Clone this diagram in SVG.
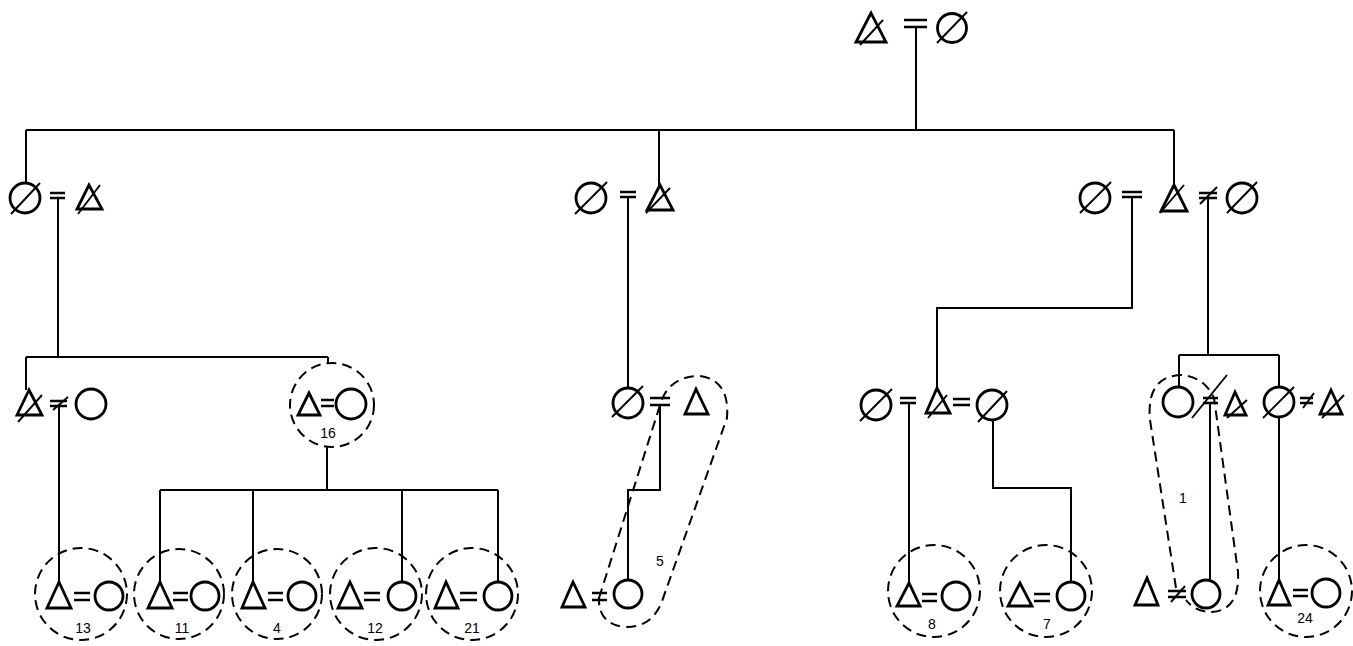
<svg xmlns="http://www.w3.org/2000/svg" width="1353" height="646" viewBox="0 0 1353 646">
<style>
  .ln { stroke: #000; stroke-width: 2; fill: none; }
  .sym { stroke: #000; stroke-width: 2.8; fill: none; stroke-linejoin: miter; }
  .eq { stroke: #000; stroke-width: 2.5; fill: none; }
  .sl { stroke: #000; stroke-width: 1.9; fill: none; }
  .dash { stroke: #000; stroke-width: 2; fill: none; stroke-dasharray: 10 6; }
  .lbl { font-family: "Liberation Sans", Arial, sans-serif; font-size: 14px; fill: #000; text-anchor: middle; }
</style>
<rect width="1353" height="646" fill="#fff"/>

<!-- descent and sibship lines -->
<g id="connectors">
  <path class="ln" d="M916,27 V130 M26,130 H1174 M26,130 V183 M659,130 V185 M1174,130 V185"/>
  <path class="ln" d="M58,198 V357 M26,357 H328 M26,357 V390 M328,357 V363"/>
  <path class="ln" d="M628,197 V388"/>
  <path class="ln" d="M1132,197 V308 H937 V388"/>
  <path class="ln" d="M1208,198 V355 M1179,355 H1279 M1179,355 V387 M1279,355 V387"/>
  <path class="ln" d="M59,406 V582"/>
  <path class="ln" d="M327,447 V490 M160,490 H498 M160,490 V582 M253,490 V582 M402,490 V582 M498,490 V582"/>
  <path class="ln" d="M660,405 V490 H628 V580"/>
  <path class="ln" d="M909,403 V583"/>
  <path class="ln" d="M993,420 V488 H1071 V582"/>
  <path class="ln" d="M1210,403 V580"/>
  <path class="ln" d="M1279,417 V580"/>
</g>

<!-- generation I -->
<g id="gen1-couple">
  <polygon class="sym" points="871,13 856,42 886,42"/>
  <line class="sl" x1="883" y1="20" x2="860" y2="45"/>
  <path class="eq" d="M904,20 H927 M904,27 H927"/>
  <circle class="sym" cx="952" cy="28" r="14.5"/>
  <line class="sl" x1="967" y1="12" x2="937" y2="43"/>
</g>

<!-- generation II -->
<g id="gen2-left">
  <circle class="sym" cx="25" cy="198" r="15"/>
  <line class="sl" x1="40" y1="183" x2="11" y2="214"/>
  <path class="eq" d="M50,193 H65 M50,198 H65"/>
  <polygon class="sym" points="89,185 77,209 102,209"/>
  <line class="sl" x1="100" y1="185" x2="78" y2="214"/>
</g>
<g id="gen2-middle">
  <circle class="sym" cx="591" cy="198" r="15"/>
  <line class="sl" x1="607" y1="182" x2="575" y2="214"/>
  <path class="eq" d="M620,192 H636 M620,197 H636"/>
  <polygon class="sym" points="660,185 647,210 673,210"/>
  <line class="sl" x1="670" y1="188" x2="646" y2="213"/>
</g>
<g id="gen2-right">
  <circle class="sym" cx="1095" cy="198" r="15"/>
  <line class="sl" x1="1111" y1="182" x2="1080" y2="213"/>
  <path class="eq" d="M1122,192 H1142 M1122,197 H1142"/>
  <polygon class="sym" points="1174,185 1161,211 1187,211"/>
  <line class="sl" x1="1184" y1="185" x2="1160" y2="213"/>
  <path class="eq" d="M1199,193 H1217 M1199,198 H1217"/>
  <line class="sl" x1="1217" y1="187" x2="1200" y2="204"/>
  <circle class="sym" cx="1242" cy="198" r="15"/>
  <line class="sl" x1="1257" y1="182" x2="1227" y2="213"/>
</g>

<!-- generation III -->
<g id="gen3-a">
  <polygon class="sym" points="29,390 17,415 42,415"/>
  <line class="sl" x1="42" y1="395" x2="18" y2="422"/>
  <path class="eq" d="M50,401 H67 M50,406 H67"/>
  <line class="sl" x1="68" y1="397" x2="53" y2="410"/>
  <circle class="sym" cx="91" cy="404" r="15"/>
</g>
<g id="gen3-b">
  <circle class="dash" cx="332" cy="405" r="42"/>
  <polygon class="sym" points="309,393 298,415 320,415"/>
  <path class="eq" d="M321,400 H334 M321,406 H334"/>
  <circle class="sym" cx="351" cy="404" r="15"/>
  <text class="lbl" x="328" y="438">16</text>
</g>
<g id="gen3-c">
  <circle class="sym" cx="628" cy="403" r="15"/>
  <line class="sl" x1="643" y1="386" x2="612" y2="417"/>
  <path class="eq" d="M650,398 H670 M650,405 H670"/>
  <polygon class="sym" points="696,389 685,414 708,414"/>
  <path class="dash" d="M599,598 L661,402 Q670,376 700,376 Q730,380 727,418 L661,604 Q650,628 625,627 Q598,624 599,598 Z"/>
  <text class="lbl" x="660" y="566">5</text>
</g>
<g id="gen3-d">
  <circle class="sym" cx="876" cy="405" r="15"/>
  <line class="sl" x1="892" y1="389" x2="860" y2="421"/>
  <path class="eq" d="M900,398 H916 M900,403 H916"/>
  <polygon class="sym" points="937,388 926,413 950,413"/>
  <line class="sl" x1="947" y1="395" x2="928" y2="418"/>
  <path class="eq" d="M953,399 H970 M953,405 H970"/>
  <circle class="sym" cx="992" cy="405" r="15"/>
  <line class="sl" x1="1007" y1="391" x2="978" y2="422"/>
</g>
<g id="gen3-e">
  <circle class="sym" cx="1178" cy="402" r="15"/>
  <path class="eq" d="M1203,398 H1218 M1203,403 H1218"/>
  <line class="sl" x1="1227" y1="375" x2="1192" y2="418"/>
  <polygon class="sym" points="1235,392 1225,415 1246,415"/>
  <line class="sl" x1="1247" y1="400" x2="1227" y2="418"/>
  <path class="dash" d="M1176,588 L1150,420 Q1146,377 1180,375 Q1204,376 1214,398 L1238,572 Q1240,610 1212,612 Q1195,612 1186,600"/>
  <text class="lbl" x="1183" y="503">1</text>
</g>
<g id="gen3-f">
  <circle class="sym" cx="1279" cy="402" r="15"/>
  <line class="sl" x1="1294" y1="387" x2="1263" y2="418"/>
  <path class="eq" d="M1300,398 H1313 M1300,403 H1313"/>
  <line class="sl" x1="1314" y1="393" x2="1303" y2="408"/>
  <polygon class="sym" points="1331,390 1320,414 1342,414"/>
  <line class="sl" x1="1344" y1="395" x2="1322" y2="418"/>
</g>

<!-- generation IV -->
<g id="gen4-13">
  <circle class="dash" cx="81" cy="594" r="46"/>
  <polygon class="sym" points="59,582 47,608 71,608"/>
  <path class="eq" d="M74,593 H90 M74,600 H90"/>
  <circle class="sym" cx="109" cy="596" r="14"/>
  <text class="lbl" x="83" y="633">13</text>
</g>
<g id="gen4-11">
  <circle class="dash" cx="179" cy="594" r="45"/>
  <polygon class="sym" points="160,582 148,608 172,608"/>
  <path class="eq" d="M173,593 H188 M173,600 H188"/>
  <circle class="sym" cx="205" cy="596" r="14"/>
  <text class="lbl" x="182" y="633">11</text>
</g>
<g id="gen4-4">
  <circle class="dash" cx="277" cy="594" r="45"/>
  <polygon class="sym" points="253,582 242,608 265,608"/>
  <path class="eq" d="M268,593 H283 M268,600 H283"/>
  <circle class="sym" cx="302" cy="596" r="14"/>
  <text class="lbl" x="277" y="633">4</text>
</g>
<g id="gen4-12">
  <circle class="dash" cx="376" cy="594" r="46"/>
  <polygon class="sym" points="350,582 338,608 362,608"/>
  <path class="eq" d="M364,593 H380 M364,600 H380"/>
  <circle class="sym" cx="402" cy="596" r="14"/>
  <text class="lbl" x="375" y="633">12</text>
</g>
<g id="gen4-21">
  <circle class="dash" cx="472" cy="594" r="46"/>
  <polygon class="sym" points="446,582 435,608 458,608"/>
  <path class="eq" d="M460,593 H477 M460,600 H477"/>
  <circle class="sym" cx="498" cy="596" r="14"/>
  <text class="lbl" x="472" y="633">21</text>
</g>
<g id="gen4-5">
  <polygon class="sym" points="573,582 562,607 585,607"/>
  <path class="eq" d="M592,593 H607 M592,600 H607"/>
  <circle class="sym" cx="628" cy="594" r="14"/>
</g>
<g id="gen4-8">
  <circle class="dash" cx="934" cy="591" r="46"/>
  <polygon class="sym" points="909,583 897,606 920,606"/>
  <path class="eq" d="M922,594 H937 M922,601 H937"/>
  <circle class="sym" cx="956" cy="596" r="14"/>
  <text class="lbl" x="932" y="629">8</text>
</g>
<g id="gen4-7">
  <circle class="dash" cx="1046" cy="591" r="46"/>
  <polygon class="sym" points="1020,583 1008,606 1032,606"/>
  <path class="eq" d="M1034,594 H1050 M1034,601 H1050"/>
  <circle class="sym" cx="1071" cy="596" r="14"/>
  <text class="lbl" x="1047" y="629">7</text>
</g>
<g id="gen4-1">
  <polygon class="sym" points="1147,578 1135,605 1158,605"/>
  <path class="eq" d="M1168,591 H1186 M1168,597 H1186"/>
  <line class="sl" x1="1185" y1="586" x2="1171" y2="602"/>
  <circle class="sym" cx="1206" cy="594" r="14"/>
</g>
<g id="gen4-24">
  <circle class="dash" cx="1306" cy="591" r="46"/>
  <polygon class="sym" points="1279,580 1268,605 1290,605"/>
  <path class="eq" d="M1293,590 H1308 M1293,596 H1308"/>
  <circle class="sym" cx="1326" cy="593" r="14"/>
  <text class="lbl" x="1305" y="623">24</text>
</g>
</svg>
